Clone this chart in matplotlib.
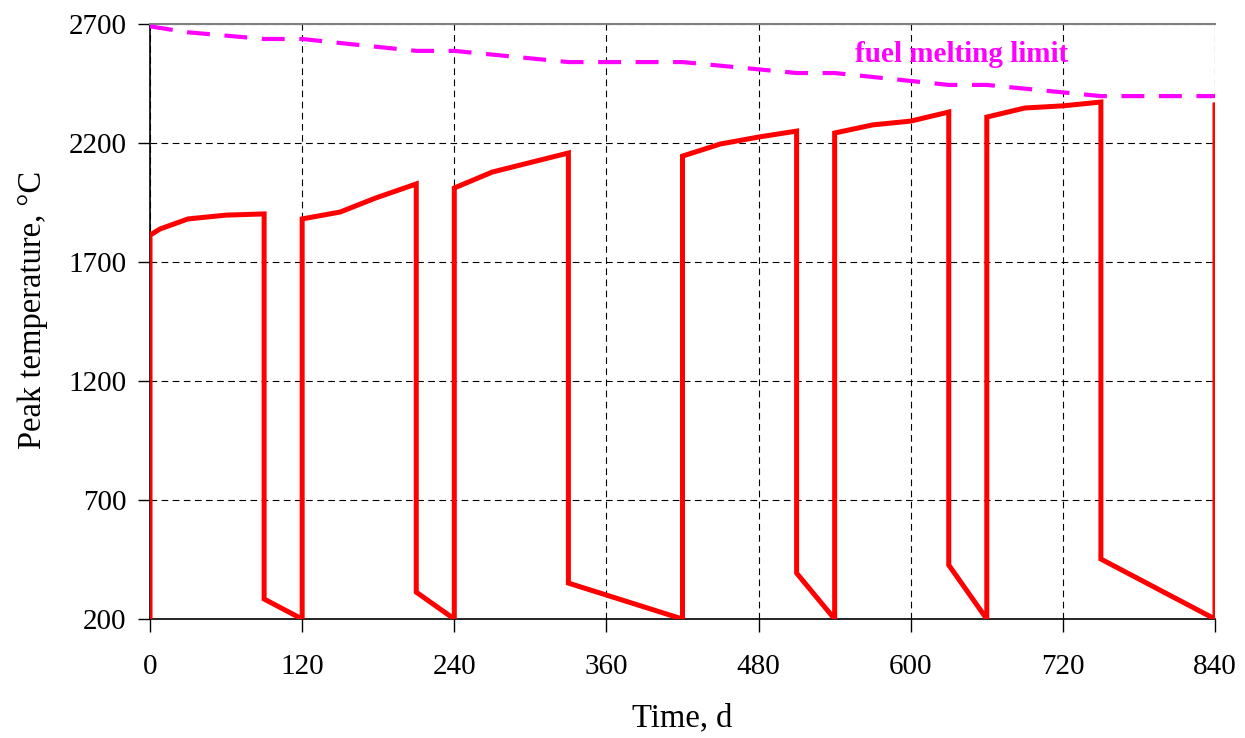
import numpy as np
import matplotlib.pyplot as plt

plt.rcParams['font.family'] = ['Liberation Serif', 'DejaVu Serif']

# Temperatura pico del combustible (rojo)
t_peak = [0, 0, 8, 30, 60, 90, 90, 120,
          120, 150, 178, 210, 210, 240,
          240, 270, 300, 330, 330, 420,
          420, 450, 480, 510, 510, 540,
          540, 570, 600, 630, 630, 660,
          660, 690, 720, 750, 750, 840, 840]
T_peak = [200, 1813, 1839, 1881, 1897, 1902, 284, 200,
          1881, 1910, 1969, 2028, 313, 200,
          2011, 2078, 2118, 2158, 351, 200,
          2145, 2196, 2225, 2250, 393, 200,
          2242, 2276, 2292, 2330, 427, 200,
          2309, 2347, 2356, 2372, 452, 200, 2360]

# Límite de fusión del combustible (magenta, discontinua)
t_lim = [0, 30, 90, 120, 150, 210, 240, 330, 420, 510, 540, 630, 660, 750, 840]
T_lim = [2690, 2665, 2637, 2637, 2620, 2587, 2587, 2540, 2540, 2494, 2494, 2444, 2444, 2397, 2397]

xticks = np.arange(0, 841, 120)
yticks = [200, 700, 1200, 1700, 2200, 2700]

fig = plt.figure(figsize=(12.45, 7.38), dpi=100)
ax = fig.add_axes([0.1205, 0.1612, 0.8554, 0.8063])

ax.plot(t_lim, T_lim, color='#ff00ff', lw=3, dashes=(5.5, 3.5), zorder=3)
ax.plot(t_peak, T_peak, color='#ff0000', lw=3.6, zorder=4, solid_joinstyle='miter')

ax.set_xlim(0, 840)
ax.set_ylim(200, 2700)
ax.set_xticks(xticks)
ax.set_yticks(yticks)
ax.tick_params(labelsize=21, direction='out', length=9, width=1)
ax.tick_params(axis='x', pad=16)
ax.tick_params(axis='y', pad=8)
ax.grid(True, color='black', lw=0.8, linestyle=(0, (6, 4)))

for s in ['left', 'bottom']:
    ax.spines[s].set_color('black')
    ax.spines[s].set_linewidth(1.2)
ax.spines['top'].set_color('#808080')
ax.spines['top'].set_linewidth(1.5)
ax.spines['right'].set_visible(False)

ax.text(556, 2570, 'fuel melting limit', color='#ff00ff', fontsize=21,
        fontweight='bold', ha='left', va='center')

ax.set_xlabel('Time, d', fontsize=23.5)
ax.set_ylabel('Peak temperature, \u00b0C', fontsize=23.5)
ax.xaxis.set_label_coords(0.5, -0.14)
ax.yaxis.set_label_coords(-0.0954, 0.52)

fig.savefig('out.png', dpi=100)
